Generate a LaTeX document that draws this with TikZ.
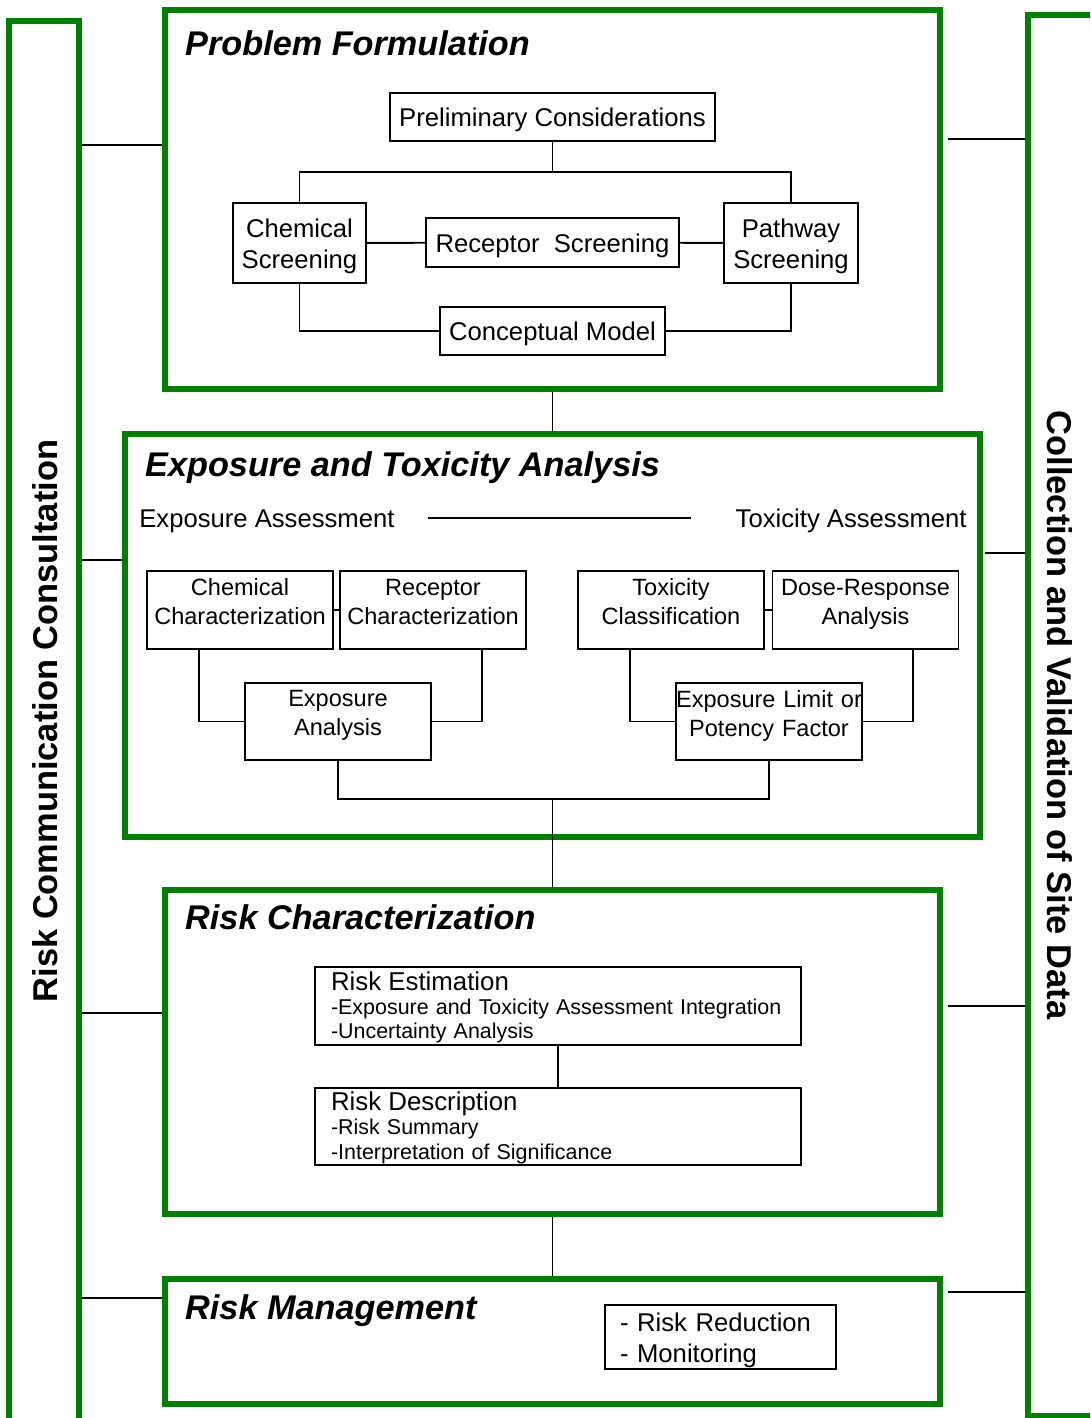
\documentclass[tikz,border=0pt]{standalone}
\usepackage{fontspec}
\setmainfont{Liberation Sans}
\usepackage{xcolor}
\definecolor{stagegreen}{RGB}{0,128,0}

\begin{document}
\begin{tikzpicture}[x=0.02cm,y=-0.02cm,
  stage/.style={draw=stagegreen,line width=3.4pt,minimum width=15.52cm},
  bar/.style={draw=stagegreen,line width=3.4pt},
  box/.style={draw,line width=1.1pt,align=center,inner sep=0pt,font=\fontsize{14.6}{17.6}\selectfont},
  sbox/.style={box,text height=14pt,text depth=3.1pt},
  tbox/.style={box,text depth=17.3pt},
  ebox/.style={box,text width=3.72cm,minimum height=1.56cm,font=\fontsize{13.4}{16.5}\selectfont,text depth=26pt},
  lbox/.style={box,align=left,inner xsep=0.32cm,text depth=28.4pt,font=\fontsize{12.2}{13.7}\selectfont},
  heading/.style={inner sep=0pt,font=\fontsize{14.6}{17.6}\selectfont},
  link/.style={line width=1.1pt},
  title/.style={anchor=west,font=\fontsize{19.5}{23}\selectfont\bfseries\itshape},
  side/.style={font=\fontsize{19.6}{23}\selectfont\bfseries}]
\clip (0,0) rectangle (1090,1418);
\node[bar,minimum width=1.4cm,minimum height=28cm] (lbar) at (44,721) {};
\node[bar,minimum width=1.83cm,minimum height=28.02cm] (rbar) at (1074,715.5) {};
\node[side,rotate=90] (commtitle) at (45,721) {Risk Communication Consultation};
\node[side,rotate=-90] (datatitle) at (1060,715) {Collection and Validation of Site Data};
\node[stage,minimum height=7.58cm] (pf) at (552.5,199.5) {};
\node[stage,minimum width=17.1cm,minimum height=8.06cm] (eta) at (552.5,635.5) {};
\node[stage,minimum height=6.48cm] (rc) at (552.5,1052) {};
\node[stage,minimum height=2.5cm] (rm) at (552.5,1341.5) {};
\node[title] (pftitle) at (179,43) {Problem Formulation};
\node[title] (etatitle) at (139,468) {Exposure and Toxicity Analysis};
\node[title] (rctitle) at (179,917) {Risk Characterization};
\node[title] (rmtitle) at (179,1311) {Risk Management};
% problem formulation
\node[sbox,minimum width=6.5cm,minimum height=0.96cm] (prelim) at (552.5,117) {Preliminary Considerations};
\node[tbox,text width=2.66cm,minimum height=1.6cm] (chemscr) at (299.5,243) {Chemical\\Screening};
\node[sbox,minimum width=5.06cm,minimum height=0.98cm] (recscr) at (552.5,242.5) {Receptor~~Screening};
\node[tbox,text width=2.68cm,minimum height=1.6cm] (pathscr) at (791,243) {Pathway\\Screening};
\node[sbox,minimum width=4.5cm,minimum height=0.96cm] (concept) at (552.5,331) {Conceptual Model};
\coordinate (split) at (552.5,172);
\draw[link] (prelim) -- (split);
\draw[link] (chemscr.north) |- (split) -| (pathscr.north);
\draw[link] (chemscr) -- (recscr) -- (pathscr);
\draw[link] (chemscr.south) |- (concept.west);
\draw[link] (pathscr.south) |- (concept.east);
% exposure and toxicity
\node[heading,anchor=west] (expass) at (139,521) {Exposure Assessment};
\node[heading,anchor=east] (toxass) at (967,521) {Toxicity Assessment};
\draw[link,shorten <=0.66cm,shorten >=0.88cm] (expass.east |- 0,518) -- (toxass.west |- 0,518);
\node[ebox] (chemchar) at (240,610) {Chemical\\Characterization};
\node[ebox] (recchar) at (433,610) {Receptor\\Characterization};
\node[ebox] (toxclass) at (671,610) {Toxicity\\Classification};
\node[ebox] (doseresp) at (865.5,610) {Dose-Response\\Analysis};
\node[ebox,minimum height=1.54cm] (expana) at (338,721.5) {Exposure\\Analysis};
\node[ebox,minimum height=1.54cm] (explim) at (769,721.5) {Exposure Limit or\\Potency Factor};
\draw[link] (chemchar) -- (recchar);
\draw[link] (toxclass) -- (doseresp);
\draw[link] (chemchar.224) |- (expana.west);
\draw[link] (recchar.321) |- (expana.east);
\draw[link] (toxclass.224) |- (explim.west);
\draw[link] (doseresp.320) |- (explim.east);
\coordinate (merge) at (552.5,799);
\draw[link] (expana.south) |- (merge) -| (explim.south);
% risk characterization
\node[lbox,text width=9.08cm,minimum height=1.56cm] (estim) at (558,1006) {{\fontsize{14.7}{13.7}\selectfont Risk Estimation}\\-Exposure and Toxicity Assessment Integration\\-Uncertainty Analysis};
\node[lbox,text width=9.08cm,minimum height=1.54cm] (descr) at (558,1126.5) {{\fontsize{14.7}{13.7}\selectfont Risk Description}\\-Risk Summary\\-Interpretation of Significance};
\draw[link] (estim) -- (descr);
% risk management
\node[tbox,align=left,inner xsep=0.3cm,text width=4.02cm,minimum height=1.28cm] (manage) at (720.5,1337) {- Risk Reduction\\- Monitoring};
% stage links
\draw[link] (pf) -- (eta);
\draw[link] (merge) -- (rc.north);
\draw[link] (rc) -- (rm);
\draw[link] (lbar.east |- 0,145) -- (pf.west |- 0,145);
\draw[link] (lbar.east |- 0,560) -- (eta.west |- 0,560);
\draw[link] (lbar.east |- 0,1013) -- (rc.west |- 0,1013);
\draw[link] (lbar.east |- 0,1298) -- (rm.west |- 0,1298);
\draw[link,shorten <=0.09cm] (pf.east |- 0,139) -- (rbar.west |- 0,139);
\draw[link,shorten <=0.04cm] (eta.east |- 0,553) -- (rbar.west |- 0,553);
\draw[link,shorten <=0.09cm] (rc.east |- 0,1006) -- (rbar.west |- 0,1006);
\draw[link,shorten <=0.09cm] (rm.east |- 0,1292) -- (rbar.west |- 0,1292);
\end{tikzpicture}
\end{document}
